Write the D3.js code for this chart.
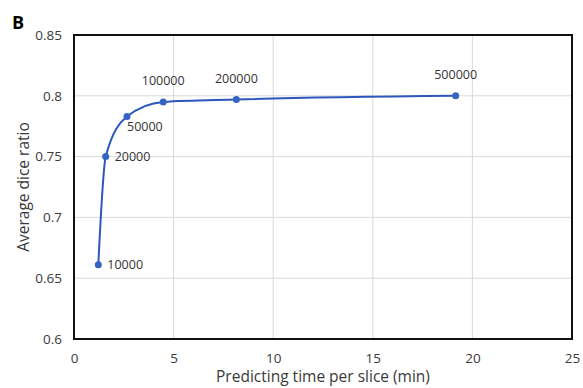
<!DOCTYPE html>
<html><head><meta charset="utf-8">
<script src="https://cdn.jsdelivr.net/npm/d3@7"></script>
<style>body{margin:0;background:#fff;} text{font-family:"Open Sans","Noto Sans",sans-serif;fill:#333;}</style>
</head><body><svg id="c" width="583" height="388"></svg>
<script>
const sampleSizes = ["10000","20000","50000","100000","200000","500000"];
const timeMin = [1.22, 1.59, 2.66, 4.48, 8.15, 19.16];
const diceRatio = [0.661, 0.750, 0.783, 0.795, 0.797, 0.800];
const xTicks = [0,5,10,15,20,25];
const yTicks = [0.6,0.65,0.7,0.75,0.8,0.85];
const labelPos = ["right","right","below","above","above","above"];

const svg = d3.select("#c");
const m = {l:74, t:35, r:572, b:339};
const x = d3.scaleLinear().domain([0,25]).range([m.l,m.r]);
const y = d3.scaleLinear().domain([0.6,0.85]).range([m.b,m.t]);

svg.append("g").selectAll("line").data(xTicks).join("line")
  .attr("x1",d=>x(d)).attr("x2",d=>x(d)).attr("y1",m.t).attr("y2",m.b)
  .attr("stroke","#d9d9d9").attr("stroke-width",1);
svg.append("g").selectAll("line").data(yTicks).join("line")
  .attr("x1",m.l).attr("x2",m.r).attr("y1",d=>y(d)).attr("y2",d=>y(d))
  .attr("stroke","#d9d9d9").attr("stroke-width",1);

const xa = svg.append("g").attr("transform",`translate(0,${m.b})`)
  .call(d3.axisBottom(x).tickValues(xTicks).tickSize(0).tickPadding(14).tickFormat(d3.format("d")));
xa.select(".domain").remove();
xa.selectAll("text").attr("font-size",13.5).style("fill","#3a3a3a");
const ya = svg.append("g").attr("transform",`translate(${m.l},0)`)
  .call(d3.axisLeft(y).tickValues(yTicks).tickSize(0).tickPadding(12).tickFormat(d=>String(+d.toFixed(2))));
ya.select(".domain").remove();
ya.selectAll("text").attr("font-size",13.5).style("fill","#3a3a3a");

svg.append("rect").attr("x",m.l).attr("y",m.t).attr("width",m.r-m.l).attr("height",m.b-m.t)
  .attr("fill","none").attr("stroke","#111").attr("stroke-width",2);

const pts = timeMin.map((t,i)=>({t, d:diceRatio[i], s:sampleSizes[i], p:labelPos[i]}));
const line = d3.line().x(d=>x(d.t)).y(d=>y(d.d)).curve(d3.curveMonotoneX);
svg.append("path").datum(pts).attr("d",line).attr("fill","none")
  .attr("stroke","#2d57bd").attr("stroke-width",2);
svg.append("g").selectAll("circle").data(pts).join("circle")
  .attr("cx",d=>x(d.t)).attr("cy",d=>y(d.d)).attr("r",3.5).attr("fill","#3563c4");

svg.append("g").selectAll("text").data(pts).join("text")
  .attr("font-size",12.5).style("fill","#333")
  .attr("x",d=> d.p==="above" ? x(d.t) : x(d.t)+ (d.p==="right"?9:0))
  .attr("y",d=> d.p==="above" ? y(d.d)-21 : d.p==="below" ? y(d.d)+10 : y(d.d))
  .attr("dy","0.35em")
  .attr("text-anchor",d=> d.p==="above" ? "middle":"start")
  .text(d=>d.s);

svg.append("text").attr("x",m.l+(m.r-m.l)/2).attr("y",377).attr("dy","0.35em")
  .attr("text-anchor","middle").attr("font-size",15.5).style("fill","#3a3a3a")
  .text("Predicting time per slice (min)");
svg.append("text").attr("transform",`translate(24,${(m.t+m.b)/2}) rotate(-90)`)
  .attr("dy","0.35em").attr("text-anchor","middle").attr("font-size",15.5).style("fill","#3a3a3a")
  .text("Average dice ratio");
svg.append("text").attr("x",12).attr("y",29).attr("font-size",18).attr("font-weight","bold")
  .style("fill","#000").text("B");
</script></body></html>
